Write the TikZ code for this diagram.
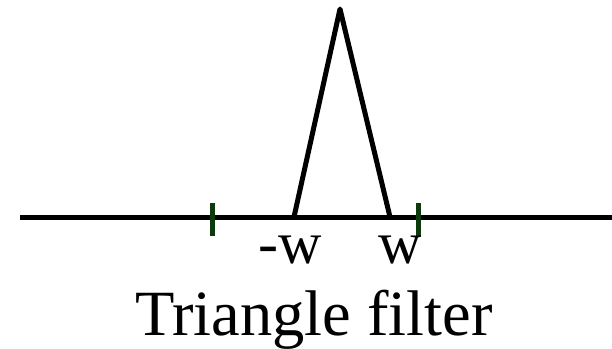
\documentclass[tikz,border=0pt]{standalone}
\usepackage{fontspec}
\setmainfont{Liberation Serif}
\newfontfamily\timesfont{Liberation Serif}
\usetikzlibrary{positioning}
\definecolor{tickgreen}{RGB}{12,58,12}

\begin{document}
\begin{tikzpicture}[x=1pt, y=-1pt,
  axis/.style={line width=5pt},
  tri/.style={line width=5pt, line join=round, line cap=round},
  tickmark/.style={draw=tickgreen, line width=5pt},
  lbl/.style={inner sep=0pt, anchor=base, font=\timesfont\fontsize{60}{66}\selectfont},
  caption/.style={inner sep=0pt, anchor=base, font=\timesfont\fontsize{64.5}{70}\selectfont}]

\useasboundingbox (0,0) rectangle (612,348);

% axis and the filter
\coordinate (axL) at (20,217);
\coordinate (axR) at (612,217);
\coordinate (footL) at (294,217);
\coordinate (apex) at (340,9);
\coordinate (footR) at (390,217);

\draw[axis] (axL) -- (axR);
\draw[tri] (footL) -- (apex) -- (footR);

% ticks
\coordinate (tickLa) at (212,203);
\coordinate (tickLb) at (212,236);
\coordinate (tickRa) at (418,203);
\coordinate (tickRb) at (418,236);
\draw[tickmark] (tickLa) -- (tickLb);
\draw[tickmark] (tickRa) -- (tickRb);

\node[lbl] (minusw) at (290,263) {-w};
\node[lbl] (plusw) at (400,263) {w};
\node[caption] (title) at (314,335) {Triangle filter};

\end{tikzpicture}
\end{document}
